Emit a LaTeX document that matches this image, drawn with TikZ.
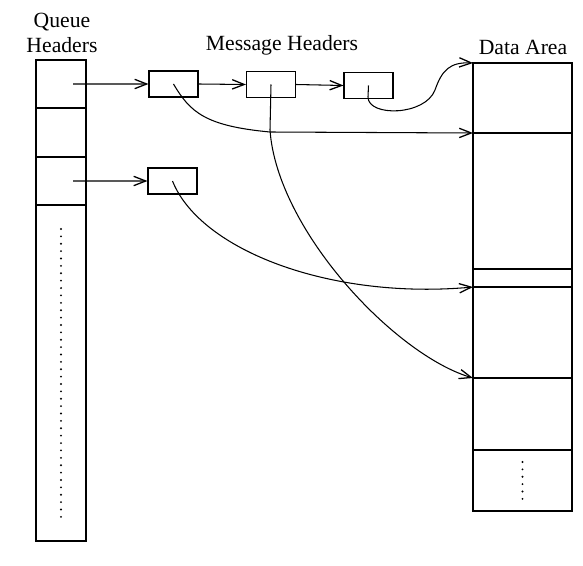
\documentclass[tikz,border=0pt]{standalone}
\usepackage{fontspec}
\setmainfont{Liberation Serif}
\usetikzlibrary{arrows.meta,positioning,calc}

\tikzset{
  qcell/.style={draw, rectangle, inner sep=0pt, outer sep=0pt, minimum width=1.5cm},
  dcell/.style={draw, rectangle, inner sep=0pt, outer sep=0pt, minimum width=2.97cm},
  mbox/.style={draw, rectangle, inner sep=0pt, minimum width=1.47cm, minimum height=0.78cm},
  ptr/.style={-{Straight Barb[length=3.6mm,width=2.8mm,line width=1.1pt]}},
  dotline/.style={line width=1.8pt, line cap=round, dash pattern=on 0pt off 6.3pt},
  lbl/.style={font=\fontsize{18.5}{22}\selectfont, align=center}
}

\begin{document}
\begin{tikzpicture}[x=0.03cm, y=-0.03cm, line width=0.9pt]
\useasboundingbox (0,0) rectangle (583,566);

% Titles
\node[lbl] (qtitle) at (62,33) {Queue\\Headers};
\node[lbl] (mtitle) at (282,45) {Message Headers};
\node[lbl] (dtitle) at (523,47) {Data Area};

% Queue headers column
\node[qcell, minimum height=1.44cm, anchor=north west] (q1) at (36,60) {};
\node[qcell, minimum height=1.47cm, below=0pt of q1] (q2) {};
\node[qcell, minimum height=1.44cm, below=0pt of q2] (q3) {};
\node[qcell, minimum height=10.08cm, below=0pt of q3] (q4) {};
\draw[dotline] ($(q4.north)+(0,24)$) -- ($(q4.south)+(0,-24)$);

% Message headers
\node[mbox] (m1) at (173.5,84) {};
\node[mbox] (m2) at (271,84.5) {};
\node[mbox] (m3) at (368.5,85.5) {};
\node[mbox] (m4) at (172.5,181) {};

% Data area column
\node[dcell, minimum height=2.1cm, anchor=north west] (d1) at (473,63) {};
\node[dcell, minimum height=4.08cm, below=0pt of d1] (d2) {};
\node[dcell, minimum height=0.54cm, below=0pt of d2] (d3) {};
\node[dcell, minimum height=2.73cm, below=0pt of d3] (d4) {};
\node[dcell, minimum height=2.16cm, below=0pt of d4] (d5) {};
\node[dcell, minimum height=1.83cm, below=0pt of d5] (d6) {};
\draw[dotline] ($(d6.north)+(0,12)$) -- ($(d6.south)+(0,-11)$);

% Queue -> message chains
\draw[ptr] ($(q1.center)+(12,0)$) -- (m1.west);
\draw[ptr] (m1.east) -- (m2.west);
\draw[ptr] (m2.east) -- (m3.west);
\draw[ptr] ($(q3.center)+(12,0)$) -- (m4.west);

% Message -> data pointers
\draw[ptr] (m1.center) .. controls (190,112) and (205,126) .. (270,132) -- (d2.north west);
\draw[ptr] (m2.center) -- (270,130) .. controls (277,230) and (395,355) .. (d5.north west);
\draw[ptr] (m3.center) -- (368,97) .. controls (368,117) and (425,116) .. (435,90) .. controls (442,70) and (450,62) .. (d1.north west);
\draw[ptr] (m4.center) .. controls (200,250) and (330,300) .. (d4.north west);
\end{tikzpicture}
\end{document}
